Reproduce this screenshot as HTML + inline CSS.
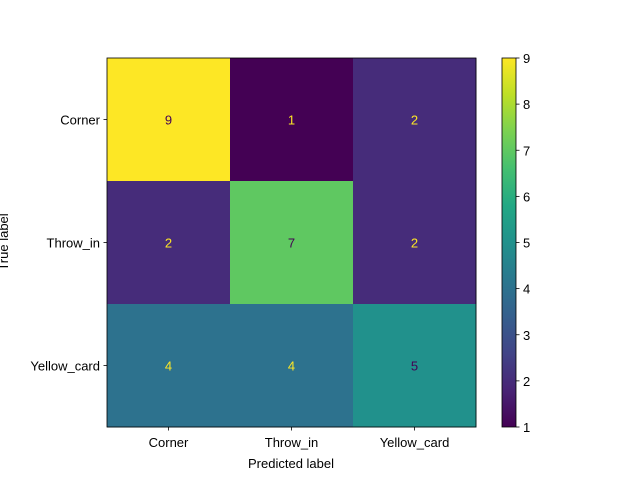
<!DOCTYPE html>
<html><head><meta charset="utf-8"><style>
body{margin:0;background:#fff;}
svg text{font-family:"Liberation Sans","DejaVu Sans",sans-serif;font-size:13px;}
</style></head><body>
<svg id="chart" width="640" height="480">
<defs>
<linearGradient id="vir" x1="0" y1="1" x2="0" y2="0">
<stop offset="0" stop-color="#440154"/><stop offset="0.1" stop-color="#482475"/>
<stop offset="0.2" stop-color="#414487"/><stop offset="0.3" stop-color="#355f8d"/>
<stop offset="0.4" stop-color="#2a788e"/><stop offset="0.5" stop-color="#21918c"/>
<stop offset="0.6" stop-color="#22a884"/><stop offset="0.7" stop-color="#44bf70"/>
<stop offset="0.8" stop-color="#7ad151"/><stop offset="0.9" stop-color="#bddf26"/>
<stop offset="1" stop-color="#fde725"/></linearGradient>
</defs>
<g id="cells"></g>
<rect x="502" y="58" width="14" height="369" fill="url(#vir)" stroke="#000" stroke-width="0.8"/>
<g id="axes"></g>
<text x="291" y="468" text-anchor="middle">Predicted label</text>
<text transform="translate(8,242) rotate(-90)" text-anchor="middle">True label</text>
</svg>
<script>
const labels=["Corner","Throw_in","Yellow_card"];
const matrix=[[9,1,2],[2,7,2],[4,4,5]];
const cbTicks=[1,2,3,4,5,6,7,8,9];
const vmin=1,vmax=9;
const stops=[[68,1,84],[72,36,117],[65,68,135],[53,95,141],[42,120,142],[33,145,140],[34,168,132],[68,191,112],[122,209,81],[189,223,38],[253,231,37]];
function vir(t){t=Math.max(0,Math.min(1,t))*10;const i=Math.min(9,Math.floor(t)),f=t-i;const a=stops[i],b=stops[i+1];return `rgb(${a.map((v,k)=>Math.round(v+(b[k]-v)*f)).join(',')})`;}
const X0=107,Y0=58,W=369,n=labels.length,cw=W/n;
const xs=i=>X0+cw*i, ys=i=>Y0+cw*i;
const cb=v=>427-(v-vmin)/(vmax-vmin)*369;
const NS="http://www.w3.org/2000/svg";
const cells=document.getElementById('cells'),axes=document.getElementById('axes');
function mk(tag,attrs,p){const e=document.createElementNS(NS,tag);for(const k in attrs)e.setAttribute(k,attrs[k]);p.appendChild(e);return e;}
matrix.forEach((row,r)=>row.forEach((v,c)=>{
 const t=(v-vmin)/(vmax-vmin);
 const rc=mk('rect',{x:xs(c),y:ys(r),width:cw+0.5,height:cw+0.5,fill:vir(t)},cells);
 
 
 const tx=mk('text',{x:xs(c)+cw/2,y:ys(r)+cw/2+5,'text-anchor':'middle',fill:t>=0.5?'#440154':'#fde725'},cells);
 tx.textContent=v;
 
 
}));
const fr=mk('rect',{x:X0,y:Y0,width:W,height:W,fill:'none',stroke:'#000','stroke-width':0.8},axes);


labels.forEach((l,i)=>{
 mk('line',{x1:xs(i)+cw/2,x2:xs(i)+cw/2,y1:427,y2:430.5,stroke:'#000','stroke-width':0.8},axes);
 const a=mk('text',{x:xs(i)+cw/2,y:447,'text-anchor':'middle'},axes);a.textContent=l;
 
 
 mk('line',{x1:103.5,x2:107,y1:ys(i)+cw/2,y2:ys(i)+cw/2,stroke:'#000','stroke-width':0.8},axes);
 const b=mk('text',{x:100,y:ys(i)+cw/2+5,'text-anchor':'end'},axes);b.textContent=l;
 
 
});
cbTicks.forEach(v=>{
 mk('line',{x1:516,x2:519.5,y1:cb(v),y2:cb(v),stroke:'#000','stroke-width':0.8},axes);
 const t=mk('text',{x:523,y:cb(v)+5},axes);t.textContent=v;
 
 
});
</script>
</body></html>
